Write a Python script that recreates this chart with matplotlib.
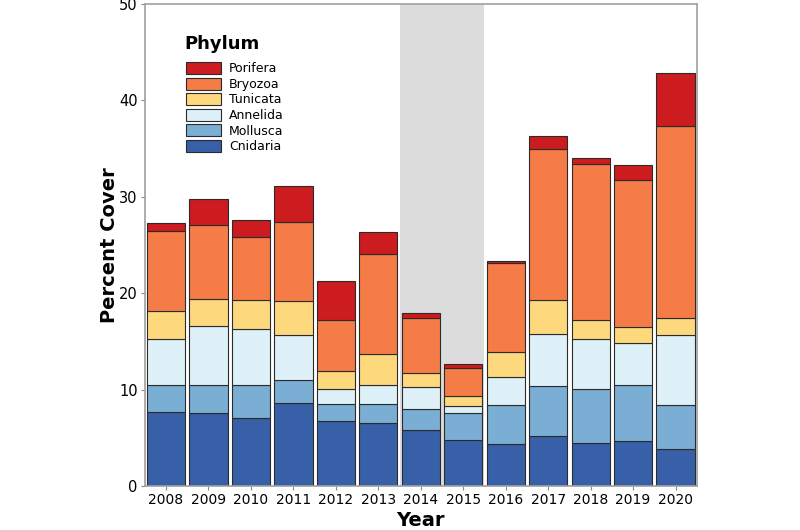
import matplotlib
matplotlib.use("Agg")
import matplotlib.pyplot as plt
import numpy as np

years = ["2008", "2009", "2010", "2011", "2012", "2013", "2014",
         "2015", "2016", "2017", "2018", "2019", "2020"]

# percent cover per phylum, bottom to top of the stack
cnidaria = [7.7, 7.55, 7.05, 8.6, 6.7, 6.5, 5.8, 4.75, 4.35, 5.15, 4.5, 4.65, 3.8]
mollusca = [2.8, 2.9, 3.45, 2.4, 1.85, 2.05, 2.2, 2.8, 4.05, 5.25, 5.6, 5.85, 4.65]
annelida = [4.7, 6.15, 5.8, 4.7, 1.5, 1.95, 2.3, 0.75, 2.9, 5.4, 5.15, 4.3, 7.2]
tunicata = [3.0, 2.8, 2.95, 3.45, 1.9, 3.2, 1.4, 1.05, 2.55, 3.5, 2.0, 1.7, 1.8]
bryozoa = [8.2, 7.7, 6.6, 8.25, 5.3, 10.35, 5.75, 2.85, 9.3, 15.65, 16.15, 15.2, 19.85]
porifera = [0.9, 2.65, 1.75, 3.7, 4.05, 2.25, 0.45, 0.45, 0.15, 1.4, 0.6, 1.6, 5.5]

phyla = ["Cnidaria", "Mollusca", "Annelida", "Tunicata", "Bryozoa", "Porifera"]
series = [cnidaria, mollusca, annelida, tunicata, bryozoa, porifera]
colors = ["#3760a8", "#7aaed4", "#def0f8", "#fdd87c", "#f57b47", "#cc1c1f"]

fig = plt.figure(figsize=(8, 5.3), dpi=100)
ax = fig.add_axes([0.181, 0.083, 0.69, 0.9095])

x = np.arange(len(years))
ax.axvspan(5.5, 7.5, color="#dcdcdc", zorder=0, lw=0)

bottom = np.zeros(len(years))
handles = []
for name, vals, c in zip(phyla, series, colors):
    b = ax.bar(x, vals, width=0.9, bottom=bottom, color=c,
               edgecolor="#2b2b2b", linewidth=0.8, label=name, zorder=2)
    handles.append(b)
    bottom += np.array(vals)

ax.set_xlim(-0.5, 12.5)
ax.set_ylim(0, 50)
ax.set_xticks(x)
ax.set_xticklabels(years, fontsize=10)
ax.set_yticks([0, 10, 20, 30, 40, 50])
ax.tick_params(axis="y", labelsize=10.5, length=3, color="#888888", pad=2)
ax.tick_params(axis="x", length=3, color="#888888", pad=2)

for s in ax.spines.values():
    s.set_color("#a0a0a0")
    s.set_linewidth(1.2)

ax.set_xlabel("Year", fontsize=14, fontweight="bold", labelpad=3)
ax.set_ylabel("Percent Cover", fontsize=14, fontweight="bold", labelpad=0)

ax.text(0.072, 0.917, "Phylum", transform=ax.transAxes, fontsize=13,
        fontweight="bold", va="center", ha="left")
leg = ax.legend(handles[::-1], phyla[::-1], loc="upper left",
                bbox_to_anchor=(0.055, 0.903), frameon=False, fontsize=9,
                handlelength=2.8, handleheight=1.1, labelspacing=0.19,
                handletextpad=0.6)

fig.savefig("out.png", dpi=100)
